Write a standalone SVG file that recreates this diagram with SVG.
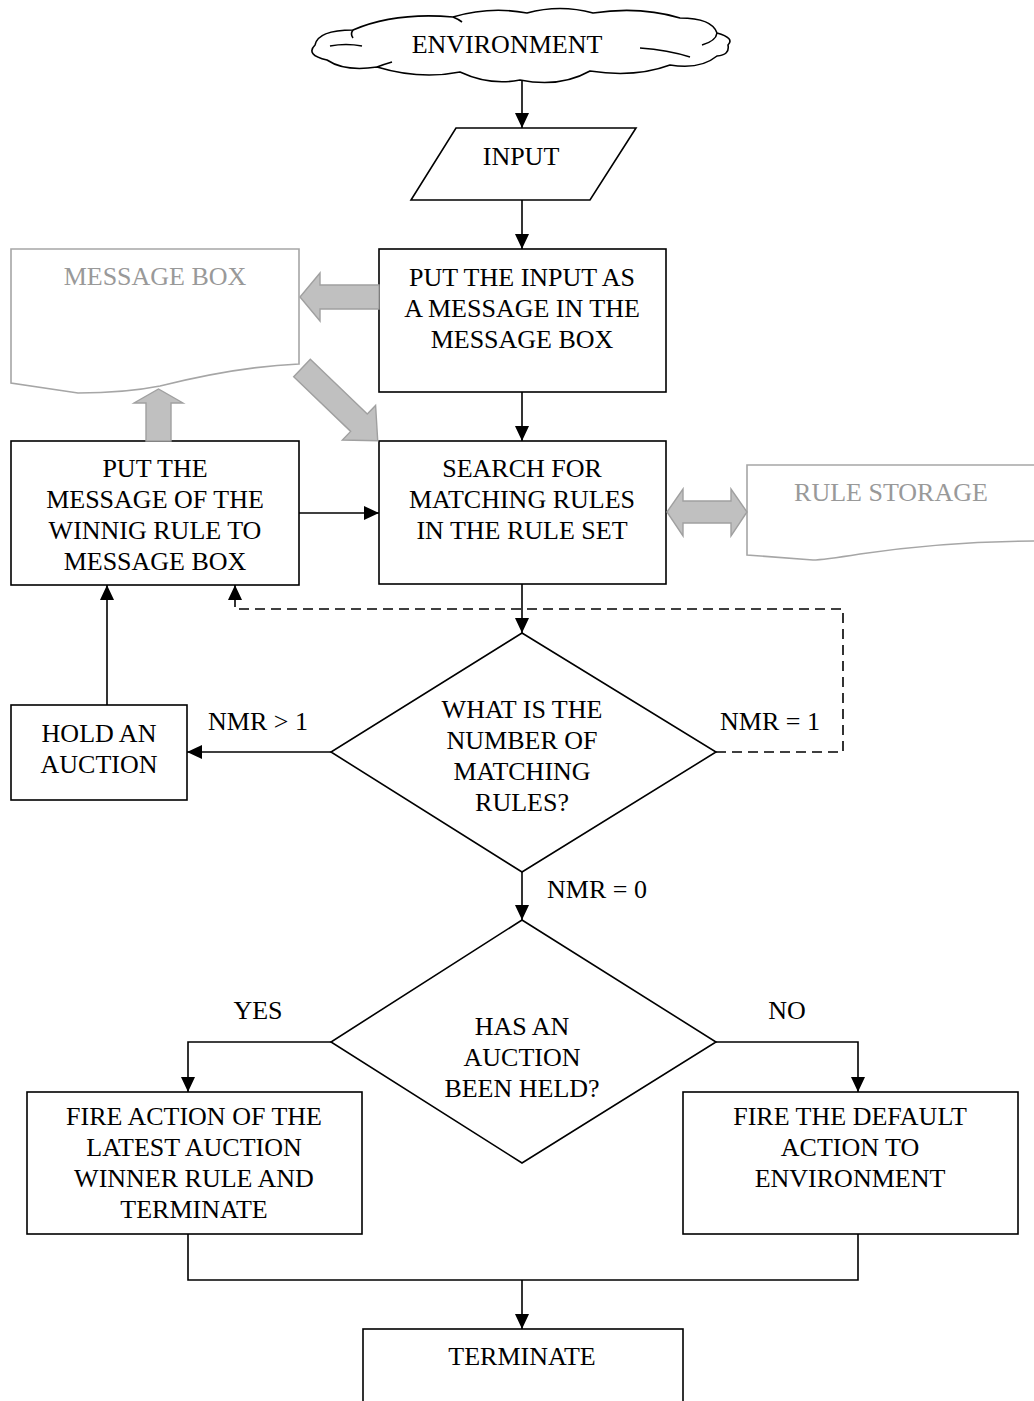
<svg xmlns="http://www.w3.org/2000/svg" width="1034" height="1401" viewBox="0 0 1034 1401">
<style>
.box{fill:#fff;stroke:#000;stroke-width:1.6}
.t{font-family:"Liberation Serif","Times New Roman",serif;font-size:26px;fill:#000;text-anchor:middle}
.g{fill:#999}
.doc{fill:#fff;stroke:#a6a6a6;stroke-width:1.6}
.blk{fill:#c0c0c0;stroke:#a0a0a0;stroke-width:1.4}
.c{fill:none;stroke:#000;stroke-width:1.6}
.d{stroke-dasharray:10,6}
</style>
<defs>
<marker id="ah" markerUnits="userSpaceOnUse" markerWidth="16" markerHeight="14" refX="15" refY="7" orient="auto">
<path d="M0,0 L15,7 L0,14 z" fill="#000"/>
</marker>
</defs>

<g id="environment">
<path class="box" d="M315,45 Q318,30 353,30 Q395,12 453,17 Q490,6 527,13 Q560,4 593,13 Q640,6 680,18 Q712,18 717,33 Q735,38 728,45 Q730,55 717,56 Q700,70 670,65 Q635,78 590,71 Q560,88 520,80 Q490,86 460,72 Q420,80 377,67 Q345,72 327,60 Q305,55 315,45 Z"/>
<path class="c" d="M353,30 Q350,34 353,38 M330,46 Q346,43 362,46 M640,48 Q668,50 690,57 M717,33 Q716,41 702,45 M453,17 Q458,19 462,22 M377,67 Q385,64 392,62"/>
<text class="t" x="507" y="53">ENVIRONMENT</text>
</g>

<g id="input">
<polygon class="box" points="456,128 636,128 590,200 411,200"/>
<text class="t" x="521" y="165">INPUT</text>
</g>

<g id="put-input">
<rect class="box" x="379" y="249" width="287" height="143"/>
<text class="t" x="522" y="286">PUT THE INPUT AS</text>
<text class="t" x="522" y="317">A MESSAGE IN THE</text>
<text class="t" x="522" y="348">MESSAGE BOX</text>
</g>

<g id="message-box">
<path class="doc" d="M11,249 H299 V364 C250,366 200,376 160,386 C130,392 100,393 78,393 L11,383 Z"/>
<text class="t g" x="155" y="285">MESSAGE BOX</text>
</g>

<g id="search">
<rect class="box" x="379" y="441" width="287" height="143"/>
<text class="t" x="522" y="477">SEARCH FOR</text>
<text class="t" x="522" y="508">MATCHING RULES</text>
<text class="t" x="522" y="539">IN THE RULE SET</text>
</g>

<g id="rule-storage">
<path class="doc" d="M747,465 H1040 V541 C960,541 900,548 860,554 C835,558 820,560 813,560 L747,555 Z"/>
<text class="t g" x="891" y="501">RULE STORAGE</text>
</g>

<g id="put-winning">
<rect class="box" x="11" y="441" width="288" height="144"/>
<text class="t" x="155" y="477">PUT THE</text>
<text class="t" x="155" y="508">MESSAGE OF THE</text>
<text class="t" x="155" y="539">WINNIG RULE TO</text>
<text class="t" x="155" y="570">MESSAGE BOX</text>
</g>

<g id="hold-auction">
<rect class="box" x="11" y="705" width="176" height="95"/>
<text class="t" x="99" y="742">HOLD AN</text>
<text class="t" x="99" y="773">AUCTION</text>
</g>

<g id="decision-nmr">
<polygon class="box" points="522,633 716,752 522,872 331,752"/>
<text class="t" x="522" y="718">WHAT IS THE</text>
<text class="t" x="522" y="749">NUMBER OF</text>
<text class="t" x="522" y="780">MATCHING</text>
<text class="t" x="522" y="811">RULES?</text>
</g>

<g id="decision-auction">
<polygon class="box" points="522,920 716,1042 522,1163 331,1042"/>
<text class="t" x="522" y="1035">HAS AN</text>
<text class="t" x="522" y="1066">AUCTION</text>
<text class="t" x="522" y="1097">BEEN HELD?</text>
</g>

<g id="fire-winner">
<rect class="box" x="27" y="1092" width="335" height="142"/>
<text class="t" x="194" y="1125">FIRE ACTION OF THE</text>
<text class="t" x="194" y="1156">LATEST AUCTION</text>
<text class="t" x="194" y="1187">WINNER RULE AND</text>
<text class="t" x="194" y="1218">TERMINATE</text>
</g>

<g id="fire-default">
<rect class="box" x="683" y="1092" width="335" height="142"/>
<text class="t" x="850" y="1125">FIRE THE DEFAULT</text>
<text class="t" x="850" y="1156">ACTION TO</text>
<text class="t" x="850" y="1187">ENVIRONMENT</text>
</g>

<g id="terminate">
<rect class="box" x="363" y="1329" width="320" height="90"/>
<text class="t" x="522" y="1365">TERMINATE</text>
</g>

<g id="connectors">
<polygon class="blk" points="379,285 320,285 320,273 300,297 320,321 320,309 379,309"/>
<polygon class="blk" points="146,441 146,403 134,403 158.5,389 183,403 171,403 171,441"/>
<polygon class="blk" transform="translate(302,368) rotate(43.85)" points="0,-12 79,-12 79,-24 105,0 79,24 79,12 0,12"/>
<polygon class="blk" points="667,512 683,489 683,501 731,501 731,489 747,512 731,536 731,523 683,523 683,536"/>
<path class="c" marker-end="url(#ah)" d="M522,80 V128"/>
<path class="c" marker-end="url(#ah)" d="M522,200 V249"/>
<path class="c" marker-end="url(#ah)" d="M522,392 V441"/>
<path class="c" marker-end="url(#ah)" d="M522,584 V633"/>
<path class="c" marker-end="url(#ah)" d="M299,513 H379"/>
<path class="c" marker-end="url(#ah)" d="M331,752 H187"/>
<path class="c" marker-end="url(#ah)" d="M107,705 V585"/>
<path class="c d" marker-end="url(#ah)" d="M716,752 H843 V609 H235 V585"/>
<path class="c" marker-end="url(#ah)" d="M522,872 V920"/>
<path class="c" marker-end="url(#ah)" d="M331,1042 H188 V1092"/>
<path class="c" marker-end="url(#ah)" d="M716,1042 H858 V1092"/>
<path class="c" d="M188,1234 V1280 H858 V1234"/>
<path class="c" marker-end="url(#ah)" d="M522,1280 V1329"/>
<text class="t" x="258" y="730">NMR &gt; 1</text>
<text class="t" x="770" y="730">NMR = 1</text>
<text class="t" x="597" y="898">NMR = 0</text>
<text class="t" x="258" y="1019">YES</text>
<text class="t" x="787" y="1019">NO</text>
</g>
</svg>
